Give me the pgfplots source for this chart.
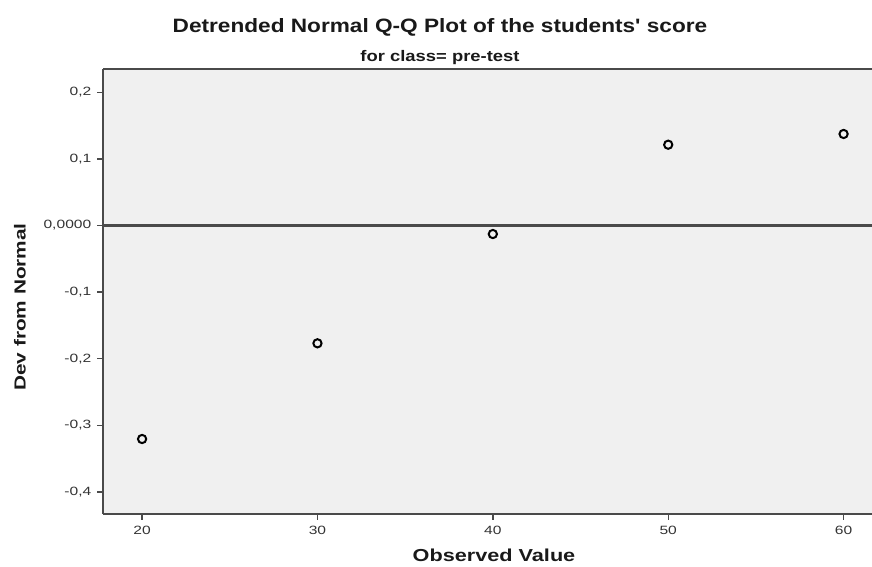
\documentclass[border=0pt]{standalone}
\usepackage{pgfplots}
\pgfplotsset{compat=1.18}
\usepackage{graphicx}
\usepackage{fontspec}
\setmainfont{Liberation Sans}
\definecolor{plotbg}{HTML}{F0F0F0}
\definecolor{axcol}{HTML}{4A4A4A}
\definecolor{txtcol}{HTML}{333333}
\newcommand{\sx}[1]{\scalebox{1.3}[1]{#1}}
\begin{document}
\begin{tikzpicture}
\path[use as bounding box] (0,0) rectangle (654pt,425.25pt);
\begin{axis}[
  at={(77.5pt,39.75pt)}, anchor=south west,
  scale only axis, width=576.5pt, height=333.75pt,
  xmin=17.79, xmax=61.62, ymin=-0.4332, ymax=0.235,
  axis background/.style={fill=plotbg},
  axis line style={draw=none},
  xtick={20,30,40,50,60},
  ytick={-0.4,-0.3,-0.2,-0.1,0,0.1,0.2},
  yticklabels={{\sx{-0,4}},{\sx{-0,3}},{\sx{-0,2}},{\sx{-0,1}},{\sx{0,0000}},{\sx{0,1}},{\sx{0,2}}},
  xticklabels={\sx{20},\sx{30},\sx{40},\sx{50},\sx{60}},
  xtick pos=left, ytick pos=left,
  tick align=outside, major tick length=4.5pt,
  tick style={axcol, line width=1pt},
  tick label style={font=\fontsize{9}{10}\selectfont, text=txtcol},
  yticklabel style={xshift=-1pt},
  xticklabel style={yshift=-1pt},
  clip=false,
]
\draw[axcol, line width=1.4pt] (rel axis cs:0,0) -- (rel axis cs:1,0);
\draw[axcol, line width=1.4pt] (rel axis cs:0,1) -- (rel axis cs:1,1);
\draw[axcol, line width=1.4pt] (rel axis cs:0,0) -- (rel axis cs:0,1);
\draw[axcol, line width=1.6pt] (axis cs:17.79,0) -- (axis cs:61.62,0);
\addplot[only marks, mark=o, mark size=3.1pt, mark options={line width=1.5pt, black}]
  coordinates {(20,-0.3206) (30,-0.1769) (40,-0.0128) (50,0.1213) (60,0.1374)};
\end{axis}
\node[font=\bfseries\fontsize{14.5}{16}\selectfont, text=black!90] at (330pt,405pt) {\scalebox{1.17}[1]{Detrended Normal Q-Q Plot of the students\textquotesingle\ score}};
\node[font=\bfseries\fontsize{11.5}{13}\selectfont, text=black!90] at (330pt,382pt) {\scalebox{1.2}[1]{for class= pre-test}};
\node[font=\bfseries\fontsize{12}{14}\selectfont, text=black!90, rotate=90] at (15pt,195pt) {\scalebox{1.3}[1]{Dev from Normal}};
\node[font=\bfseries\fontsize{13}{15}\selectfont, text=black!90] at (370.5pt,9pt) {\scalebox{1.25}[1]{Observed Value}};
\end{tikzpicture}
\end{document}
